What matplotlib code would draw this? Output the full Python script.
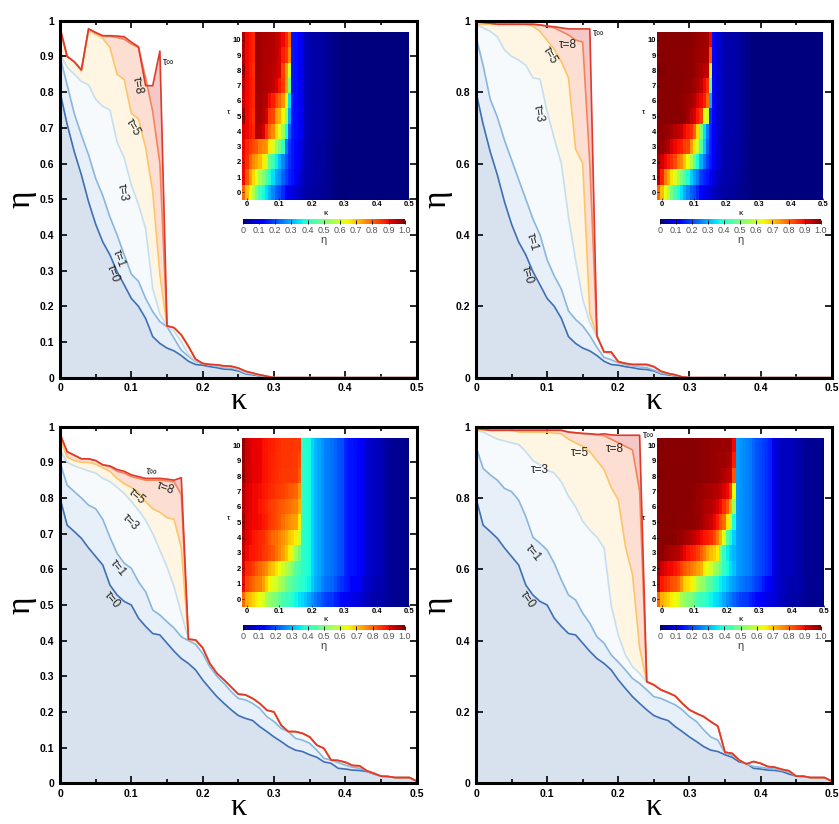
import numpy as np
import matplotlib
matplotlib.use("Agg")
import matplotlib.pyplot as plt

plt.rcParams['font.family'] = ['Liberation Sans', 'DejaVu Sans']

W, H = 839, 824

# ---- shared axes values ----
kappa = [0.00, 0.01, 0.02, 0.03, 0.04, 0.05, 0.06, 0.07, 0.08, 0.09,
         0.10, 0.11, 0.12, 0.13, 0.14, 0.15, 0.16, 0.17, 0.18, 0.19,
         0.20, 0.21, 0.22, 0.23, 0.24, 0.25, 0.26, 0.27, 0.28, 0.29,
         0.30, 0.31, 0.32, 0.33, 0.34, 0.35, 0.36, 0.37, 0.38, 0.39,
         0.40, 0.41, 0.42, 0.43, 0.44, 0.45, 0.46, 0.47, 0.48, 0.49, 0.50]
tau_rows = [0, 1, 2, 3, 4, 5, 6, 7, 8, 9, 10]
kappa_ticks = [0, 0.1, 0.2, 0.3, 0.4, 0.5]
kappa_ticklabels = ['0', '0.1', '0.2', '0.3', '0.4', '0.5']
eta_ticks_fine = [0, 0.1, 0.2, 0.3, 0.4, 0.5, 0.6, 0.7, 0.8, 0.9, 1.0]
eta_labels_fine = ['0', '0.1', '0.2', '0.3', '0.4', '0.5', '0.6', '0.7', '0.8', '0.9', '1']
eta_ticks_coarse = [0, 0.2, 0.4, 0.6, 0.8, 1.0]
eta_labels_coarse = ['0', '0.2', '0.4', '0.6', '0.8', '1']
cbar_ticks = [0, 0.1, 0.2, 0.3, 0.4, 0.5, 0.6, 0.7, 0.8, 0.9, 1.0]
cbar_ticklabels = ['0', '0.1', '0.2', '0.3', '0.4', '0.5', '0.6', '0.7', '0.8', '0.9', '1.0']

zeros_tail = [0.0, 0.0, 0.0, 0.0, 0.0, 0.0, 0.0, 0.0, 0.0, 0.0,
              0.0, 0.0, 0.0, 0.0, 0.0, 0.0, 0.0, 0.0, 0.0, 0.0]

# ---- panel 1 (top left) ----
p1_tau0 = [0.80, 0.71, 0.633, 0.568, 0.493, 0.43, 0.38, 0.344, 0.297, 0.26,
           0.222, 0.2, 0.166, 0.115, 0.096, 0.083, 0.075, 0.062, 0.046, 0.037,
           0.035, 0.031, 0.028, 0.024, 0.023, 0.019, 0.011, 0.008, 0.005, 0.002,
           0.0] + zeros_tail
p1_tau1 = [0.90, 0.82, 0.74, 0.68, 0.624, 0.558, 0.51, 0.45, 0.40, 0.344,
           0.29, 0.27, 0.222, 0.185, 0.157, 0.143, 0.11, 0.077, 0.06, 0.045,
           0.04, 0.036, 0.032, 0.028, 0.027, 0.022, 0.013, 0.01, 0.006, 0.002,
           0.0] + zeros_tail
p1_tail_mid = [0.145, 0.13, 0.1, 0.065, 0.048, 0.04, 0.036, 0.034, 0.031, 0.03,
               0.024, 0.015, 0.011, 0.007, 0.003, 0.0] + zeros_tail
p1_tail_hi = [0.145, 0.14, 0.12, 0.088, 0.052, 0.04, 0.037, 0.036, 0.033, 0.032,
              0.027, 0.018, 0.013, 0.008, 0.004, 0.0] + zeros_tail
p1_tau2 = [0.90, 0.86, 0.80, 0.76, 0.74, 0.71, 0.66, 0.6, 0.48, 0.42,
           0.36, 0.31, 0.26, 0.21, 0.17] + p1_tail_mid
p1_tau3 = [0.905, 0.87, 0.85, 0.83, 0.82, 0.78, 0.76, 0.75, 0.66, 0.615,
           0.54, 0.485, 0.418, 0.25, 0.178] + p1_tail_mid
p1_tau4 = [0.92, 0.9, 0.89, 0.87, 0.96, 0.95, 0.92, 0.86, 0.8, 0.76,
           0.68, 0.62, 0.54, 0.38, 0.22] + p1_tail_hi
p1_tau5 = [0.98, 0.9, 0.885, 0.86, 0.972, 0.962, 0.95, 0.925, 0.85, 0.835,
           0.74, 0.725, 0.645, 0.52, 0.29] + p1_tail_hi
p1_tau6 = [0.93, 0.9, 0.89, 0.87, 0.97, 0.965, 0.955, 0.95, 0.9, 0.88,
           0.83, 0.8, 0.75, 0.65, 0.35] + p1_tail_hi
p1_tau7 = [0.94, 0.9, 0.89, 0.87, 0.975, 0.965, 0.96, 0.955, 0.95, 0.94,
           0.92, 0.89, 0.85, 0.74, 0.5] + p1_tail_hi
p1_tau8 = [0.98, 0.9, 0.885, 0.862, 0.977, 0.966, 0.957, 0.956, 0.953, 0.948,
           0.935, 0.925, 0.84, 0.745, 0.6] + p1_tail_hi
p1_tau9 = [0.95, 0.9, 0.89, 0.87, 0.977, 0.967, 0.958, 0.957, 0.955, 0.952,
           0.94, 0.925, 0.88, 0.85, 0.76] + p1_tail_hi
p1_tau10 = [0.96, 0.9, 0.89, 0.87, 0.977, 0.967, 0.958, 0.958, 0.956, 0.954,
            0.94, 0.927, 0.9, 0.87, 0.8] + p1_tail_hi
p1_tauinf = [0.98, 0.90, 0.885, 0.862, 0.977, 0.967, 0.958, 0.958, 0.957, 0.955,
             0.94, 0.927, 0.818, 0.818, 0.915] + p1_tail_hi

# ---- panel 2 (top right) ----
p2_tau0 = p1_tau0
p2_tau1 = [0.955, 0.875, 0.78, 0.73, 0.665, 0.61, 0.555, 0.5, 0.445, 0.4,
           0.33, 0.285, 0.248, 0.187, 0.163, 0.145, 0.118, 0.085, 0.057, 0.05,
           0.042, 0.037, 0.033, 0.03, 0.028, 0.021, 0.013, 0.01, 0.006, 0.002,
           0.0] + zeros_tail
p2_tail_mid = [0.115, 0.073, 0.065, 0.045, 0.04, 0.035, 0.034, 0.033, 0.029, 0.016,
               0.011, 0.007, 0.001, 0.0] + zeros_tail
p2_tail_hi = [0.117, 0.072, 0.072, 0.045, 0.04, 0.037, 0.037, 0.037, 0.031, 0.018,
              0.012, 0.008, 0.002, 0.0] + zeros_tail
p2_tau2 = [0.97, 0.93, 0.9, 0.88, 0.86, 0.83, 0.78, 0.76, 0.7, 0.64,
           0.56, 0.48, 0.38, 0.3, 0.24, 0.19, 0.15] + p2_tail_mid
p2_tau3 = [0.99, 0.98, 0.97, 0.955, 0.918, 0.9, 0.89, 0.875, 0.84, 0.836,
           0.745, 0.67, 0.6, 0.45, 0.33, 0.22, 0.155] + p2_tail_mid
p2_tau4 = [0.99, 0.985, 0.98, 0.975, 0.965, 0.95, 0.94, 0.93, 0.9, 0.88,
           0.86, 0.8, 0.68, 0.5, 0.35, 0.25, 0.16] + p2_tail_hi
p2_tau5 = [0.99, 0.99, 0.99, 0.99, 0.99, 0.99, 0.99, 0.99, 0.985, 0.97,
           0.945, 0.92, 0.885, 0.84, 0.64, 0.6, 0.18] + p2_tail_hi
p2_tau6 = [0.99, 0.99, 0.99, 0.99, 0.99, 0.99, 0.985, 0.985, 0.98, 0.975,
           0.965, 0.95, 0.92, 0.9, 0.88, 0.8, 0.3] + p2_tail_hi
p2_tau7 = [0.99, 0.99, 0.99, 0.99, 0.99, 0.99, 0.99, 0.99, 0.985, 0.985,
           0.98, 0.97, 0.96, 0.94, 0.9, 0.86, 0.45] + p2_tail_hi
p2_tau8 = [0.997, 0.995, 0.993, 0.99, 0.99, 0.99, 0.99, 0.99, 0.99, 0.988,
           0.985, 0.98, 0.97, 0.96, 0.946, 0.94, 0.6] + p2_tail_hi
p2_tau9 = [0.99, 0.99, 0.99, 0.99, 0.99, 0.99, 0.99, 0.99, 0.99, 0.985,
           0.985, 0.98, 0.975, 0.97, 0.965, 0.96, 0.82] + p2_tail_hi
p2_tau10 = [0.99, 0.99, 0.99, 0.99, 0.99, 0.99, 0.99, 0.99, 0.99, 0.988,
            0.985, 0.982, 0.978, 0.975, 0.97, 0.965, 0.9] + p2_tail_hi
p2_tauinf = [0.997, 0.995, 0.993, 0.99, 0.99, 0.99, 0.99, 0.99, 0.99, 0.988,
             0.985, 0.983, 0.98, 0.977, 0.977, 0.977, 0.977] + p2_tail_hi

# ---- panel 3 (bottom left) ----
p3_tau0 = [0.80, 0.724, 0.706, 0.687, 0.66, 0.636, 0.612, 0.556, 0.528, 0.51,
           0.5, 0.463, 0.44, 0.42, 0.416, 0.393, 0.37, 0.35, 0.336, 0.318,
           0.29, 0.266, 0.243, 0.224, 0.206, 0.19, 0.182, 0.176, 0.159, 0.145,
           0.13, 0.117, 0.103, 0.093, 0.089, 0.08, 0.073, 0.06, 0.056, 0.042,
           0.04, 0.037, 0.036, 0.033, 0.026, 0.02, 0.019, 0.016, 0.016, 0.016,
           0.006]
p3_tau1 = [0.90, 0.836, 0.818, 0.8, 0.78, 0.77, 0.74, 0.69, 0.645, 0.617,
           0.603, 0.565, 0.537, 0.486, 0.472, 0.453, 0.435, 0.411, 0.4, 0.39,
           0.364, 0.327, 0.3, 0.28, 0.257, 0.238, 0.234, 0.224, 0.21, 0.187,
           0.173, 0.154, 0.145, 0.126, 0.121, 0.112, 0.093, 0.07, 0.065, 0.058,
           0.051, 0.045, 0.042, 0.035, 0.028, 0.02, 0.019, 0.016, 0.016, 0.016,
           0.006]
p3_tail_hi = [0.404, 0.402, 0.38, 0.336, 0.308, 0.29, 0.27, 0.25, 0.248, 0.238,
              0.224, 0.205, 0.2, 0.163, 0.145, 0.145, 0.14, 0.13, 0.107, 0.098,
              0.065, 0.064, 0.059, 0.05, 0.049, 0.035, 0.028, 0.02, 0.019, 0.016,
              0.016, 0.016, 0.006]
p3_tau2 = [0.92, 0.87, 0.86, 0.84, 0.82, 0.8, 0.78, 0.76, 0.72, 0.7,
           0.67, 0.64, 0.6, 0.57, 0.54, 0.5, 0.46, 0.43] + p3_tail_hi
p3_tau3 = [0.935, 0.9, 0.89, 0.883, 0.876, 0.87, 0.855, 0.846, 0.83, 0.813,
           0.79, 0.766, 0.738, 0.7, 0.654, 0.607, 0.55, 0.477] + p3_tail_hi
p3_tau4 = [0.95, 0.91, 0.9, 0.89, 0.88, 0.87, 0.86, 0.84, 0.82, 0.8,
           0.79, 0.77, 0.75, 0.73, 0.7, 0.68, 0.66, 0.6] + p3_tail_hi
p3_tau5 = [0.97, 0.915, 0.905, 0.9, 0.9, 0.895, 0.885, 0.875, 0.855, 0.84,
           0.83, 0.815, 0.79, 0.77, 0.76, 0.745, 0.74, 0.66] + p3_tail_hi
p3_tau6 = [0.95, 0.92, 0.91, 0.9, 0.9, 0.89, 0.875, 0.865, 0.85, 0.84,
           0.83, 0.82, 0.81, 0.8, 0.79, 0.78, 0.77, 0.72] + p3_tail_hi
p3_tau7 = [0.95, 0.92, 0.91, 0.9, 0.9, 0.895, 0.885, 0.88, 0.87, 0.86,
           0.85, 0.845, 0.84, 0.83, 0.82, 0.81, 0.8, 0.75] + p3_tail_hi
p3_tau8 = [0.98, 0.93, 0.92, 0.91, 0.91, 0.905, 0.893, 0.888, 0.875, 0.87,
           0.86, 0.855, 0.85, 0.85, 0.85, 0.848, 0.845, 0.81] + p3_tail_hi
p3_tau9 = [0.97, 0.93, 0.92, 0.91, 0.91, 0.905, 0.893, 0.89, 0.878, 0.873,
           0.863, 0.858, 0.853, 0.853, 0.853, 0.85, 0.848, 0.83] + p3_tail_hi
p3_tau10 = [0.98, 0.93, 0.92, 0.91, 0.91, 0.905, 0.893, 0.89, 0.88, 0.875,
            0.865, 0.86, 0.855, 0.855, 0.855, 0.853, 0.85, 0.85] + p3_tail_hi
p3_tauinf = [0.98, 0.93, 0.92, 0.91, 0.91, 0.905, 0.893, 0.89, 0.88, 0.875,
             0.865, 0.86, 0.855, 0.855, 0.855, 0.853, 0.85, 0.857] + p3_tail_hi

# ---- panel 4 (bottom right) ----
p4_tau0 = p3_tau0
p4_tau1 = [0.944, 0.883, 0.865, 0.85, 0.827, 0.818, 0.794, 0.748, 0.69, 0.673,
           0.654, 0.617, 0.57, 0.528, 0.514, 0.477, 0.449, 0.411, 0.393, 0.36,
           0.34, 0.318, 0.294, 0.28, 0.262, 0.243, 0.238, 0.229, 0.22, 0.206,
           0.187, 0.173, 0.15, 0.13, 0.121, 0.085, 0.079, 0.065, 0.054, 0.047,
           0.045, 0.042, 0.04, 0.036, 0.032, 0.02, 0.019, 0.016, 0.016, 0.016,
           0.006]
p4_tail_hi = [0.285, 0.276, 0.262, 0.254, 0.245, 0.224, 0.206, 0.196, 0.187, 0.173,
              0.16, 0.087, 0.084, 0.065, 0.054, 0.061, 0.056, 0.047, 0.045, 0.039,
              0.035, 0.02, 0.02, 0.016, 0.016, 0.016, 0.006]
p4_tau2 = [0.97, 0.93, 0.91, 0.9, 0.9, 0.89, 0.87, 0.84, 0.82, 0.8,
           0.78, 0.76, 0.74, 0.72, 0.66, 0.63, 0.6, 0.55, 0.52, 0.47,
           0.42, 0.38, 0.35, 0.32] + p4_tail_hi
p4_tau3 = [0.99, 0.985, 0.975, 0.965, 0.96, 0.955, 0.95, 0.93, 0.905, 0.893,
           0.878, 0.87, 0.845, 0.805, 0.775, 0.735, 0.71, 0.69, 0.66, 0.5,
           0.415, 0.36, 0.327, 0.308] + p4_tail_hi
p4_tau4 = [0.99, 0.99, 0.99, 0.99, 0.99, 0.985, 0.98, 0.975, 0.97, 0.96,
           0.95, 0.94, 0.92, 0.9, 0.89, 0.88, 0.86, 0.83, 0.78, 0.72,
           0.62, 0.45, 0.38, 0.33] + p4_tail_hi
p4_tau5 = [0.99, 0.99, 0.99, 0.99, 0.99, 0.99, 0.985, 0.985, 0.985, 0.985,
           0.985, 0.982, 0.98, 0.965, 0.955, 0.945, 0.93, 0.905, 0.88, 0.83,
           0.795, 0.665, 0.585, 0.38] + p4_tail_hi
p4_tau6 = [0.99, 0.99, 0.99, 0.99, 0.99, 0.99, 0.99, 0.99, 0.99, 0.99,
           0.985, 0.98, 0.975, 0.97, 0.96, 0.955, 0.95, 0.94, 0.92, 0.9,
           0.86, 0.82, 0.72, 0.55] + p4_tail_hi
p4_tau7 = [0.99, 0.99, 0.99, 0.99, 0.99, 0.99, 0.99, 0.99, 0.99, 0.99,
           0.985, 0.985, 0.98, 0.975, 0.97, 0.965, 0.96, 0.955, 0.95, 0.94,
           0.92, 0.9, 0.84, 0.64] + p4_tail_hi
p4_tau8 = [0.995, 0.993, 0.99, 0.99, 0.99, 0.99, 0.99, 0.99, 0.99, 0.99,
           0.99, 0.99, 0.99, 0.985, 0.983, 0.981, 0.98, 0.978, 0.975, 0.965,
           0.955, 0.945, 0.935, 0.82] + p4_tail_hi
p4_tau9 = [0.99, 0.99, 0.99, 0.99, 0.99, 0.99, 0.99, 0.99, 0.99, 0.99,
           0.99, 0.99, 0.99, 0.985, 0.983, 0.981, 0.98, 0.978, 0.975, 0.972,
           0.97, 0.965, 0.955, 0.88] + p4_tail_hi
p4_tau10 = [0.995, 0.993, 0.99, 0.99, 0.99, 0.99, 0.99, 0.99, 0.99, 0.99,
            0.99, 0.99, 0.99, 0.985, 0.983, 0.981, 0.98, 0.978, 0.977, 0.976,
            0.976, 0.976, 0.97, 0.9] + p4_tail_hi
p4_tauinf = [0.995, 0.993, 0.99, 0.99, 0.99, 0.99, 0.99, 0.99, 0.99, 0.99,
             0.99, 0.99, 0.99, 0.985, 0.983, 0.981, 0.98, 0.978, 0.98, 0.977,
             0.976, 0.976, 0.976, 0.976] + p4_tail_hi

# curve labels: (text, kappa, eta, rotation)
p1_labels = [('τ=0', 0.074, 0.293, -70), ('τ=1', 0.083, 0.335, -70),
             ('τ=3', 0.088, 0.52, -80), ('τ=5', 0.102, 0.70, -60),
             ('τ=8', 0.108, 0.82, -80), ('τ∞', 0.153, 0.884, 0)]
p2_labels = [('τ=0', 0.0717, 0.288, -75), ('τ=1', 0.0787, 0.38, -75),
             ('τ=3', 0.087, 0.741, -80), ('τ=5', 0.104, 0.904, -60),
             ('τ=8', 0.129, 0.932, 0), ('τ∞', 0.173, 0.966, 0)]
p3_labels = [('τ=0', 0.073, 0.514, -50), ('τ=1', 0.081, 0.604, -50),
             ('τ=3', 0.098, 0.733, -45), ('τ=5', 0.108, 0.803, -40),
             ('τ=8', 0.147, 0.828, -20), ('τ∞', 0.129, 0.873, -5)]
p4_labels = [('τ=0', 0.0717, 0.514, -55), ('τ=1', 0.08, 0.646, -50),
             ('τ=3', 0.09, 0.878, 0), ('τ=5', 0.146, 0.926, 0),
             ('τ=8', 0.195, 0.937, 0), ('τ∞', 0.242, 0.976, 0)]

# styles for tau = inf, 8, 5, 3, 1, 0
line_colors = ['#e0392b', '#f4845c', '#fdc56a', '#c6dff0', '#8ab6dd', '#3f6fb6']
fill_colors = ['#f4c8c6', '#fcdfd2', '#fef5e2', '#f6fafd', '#e7f0f8', '#d8e2ee']


def px_box(l, t, r, b):
    return [l / W, 1 - b / H, (r - l) / W, (b - t) / H]


def draw_panel(fig, box, rows, tauinf, eta_ticks, eta_labels, labels,
               heat_box, cbar_box):
    ax = fig.add_axes(px_box(*box))
    curves = [tauinf, rows[8], rows[5], rows[3], rows[1], rows[0]]
    for y, fc in zip(curves, fill_colors):
        ax.fill_between(kappa, 0, y, color=fc, lw=0, zorder=1)
    for y, lc in list(zip(curves, line_colors))[::-1]:
        ax.plot(kappa, y, color=lc, lw=1.2, zorder=2)
    for txt, x, y, rot in labels:
        fs = 7.5 if txt == 'τ∞' else 8.5
        ax.text(x, y, txt, rotation=rot, ha='center', va='center',
                fontsize=fs, color='#222', rotation_mode='anchor', zorder=5)
    ax.set_xlim(0, 0.5)
    ax.set_ylim(0, 1)
    ax.set_xticks(kappa_ticks)
    ax.set_xticklabels(kappa_ticklabels, fontweight='bold')
    ax.set_xticks([0.05, 0.15, 0.25, 0.35, 0.45], minor=True)
    ax.set_yticks(eta_ticks)
    ax.set_yticklabels(eta_labels, fontweight='bold')
    ax.tick_params(which='both', direction='in', top=True, right=True,
                   labelsize=7.5, width=1.2)
    ax.tick_params(which='major', length=5, pad=4)
    ax.tick_params(which='minor', length=3)
    for s in ax.spines.values():
        s.set_linewidth(2.2)
    ax.text(-0.11, 0.5, 'η', transform=ax.transAxes, rotation=90,
            ha='center', va='center', fontsize=24, family='Liberation Serif')
    ax.text(0.5, -0.089, 'κ', transform=ax.transAxes, ha='center',
            va='baseline', fontsize=23, family='Liberation Serif')

    hax = fig.add_axes(px_box(*heat_box))
    im = hax.imshow(np.array(rows), origin='lower', aspect='auto', cmap='jet',
                    vmin=0, vmax=1, extent=(-0.014, 0.5, -0.5, 10.5),
                    interpolation='nearest')
    hax.set_xticks(kappa_ticks)
    hax.set_xticklabels(kappa_ticklabels, fontweight='bold')
    hax.set_yticks(tau_rows)
    hax.set_yticklabels([str(t) for t in tau_rows], fontweight='bold')
    for s in hax.spines.values():
        s.set_visible(False)
    hax.tick_params(direction='in', length=1.5, width=0.5, labelsize=5.5, pad=1)
    hax.set_xlabel('κ', fontsize=6, labelpad=1)
    hax.set_ylabel('τ', fontsize=6, rotation=0, labelpad=3)

    cax = fig.add_axes(px_box(*cbar_box))
    cb = fig.colorbar(im, cax=cax, orientation='horizontal', ticks=cbar_ticks)
    cb.outline.set_visible(False)
    cax.set_xticklabels(cbar_ticklabels)
    cax.tick_params(direction='in', length=3, width=0.6, color='k',
                    labelsize=6.5, labelcolor='#555', pad=1.5)
    cax.set_xlabel('η', fontsize=8, color='#444', labelpad=0)


fig = plt.figure(figsize=(W / 100, H / 100), dpi=100)

draw_panel(fig, (60, 20.7, 416.7, 377.7),
           [p1_tau0, p1_tau1, p1_tau2, p1_tau3, p1_tau4, p1_tau5,
            p1_tau6, p1_tau7, p1_tau8, p1_tau9, p1_tau10], p1_tauinf,
           eta_ticks_fine, eta_labels_fine, p1_labels,
           (242.3, 32.3, 409.3, 200), (242.7, 219, 404.7, 224))
draw_panel(fig, (476, 20.7, 831.7, 377.7),
           [p2_tau0, p2_tau1, p2_tau2, p2_tau3, p2_tau4, p2_tau5,
            p2_tau6, p2_tau7, p2_tau8, p2_tau9, p2_tau10], p2_tauinf,
           eta_ticks_coarse, eta_labels_coarse, p2_labels,
           (657.3, 32.3, 823.3, 200), (660, 219.3, 820.7, 224))
draw_panel(fig, (60, 426.7, 416.7, 783.3),
           [p3_tau0, p3_tau1, p3_tau2, p3_tau3, p3_tau4, p3_tau5,
            p3_tau6, p3_tau7, p3_tau8, p3_tau9, p3_tau10], p3_tauinf,
           eta_ticks_fine, eta_labels_fine, p3_labels,
           (242.3, 437.7, 409.3, 606.7), (243, 625, 405, 630))
draw_panel(fig, (476, 426.7, 831.7, 783.3),
           [p4_tau0, p4_tau1, p4_tau2, p4_tau3, p4_tau4, p4_tau5,
            p4_tau6, p4_tau7, p4_tau8, p4_tau9, p4_tau10], p4_tauinf,
           eta_ticks_coarse, eta_labels_coarse, p4_labels,
           (657.3, 437.7, 824.3, 606.7), (660, 625, 821, 630))

fig.savefig('out.png', dpi=100)
